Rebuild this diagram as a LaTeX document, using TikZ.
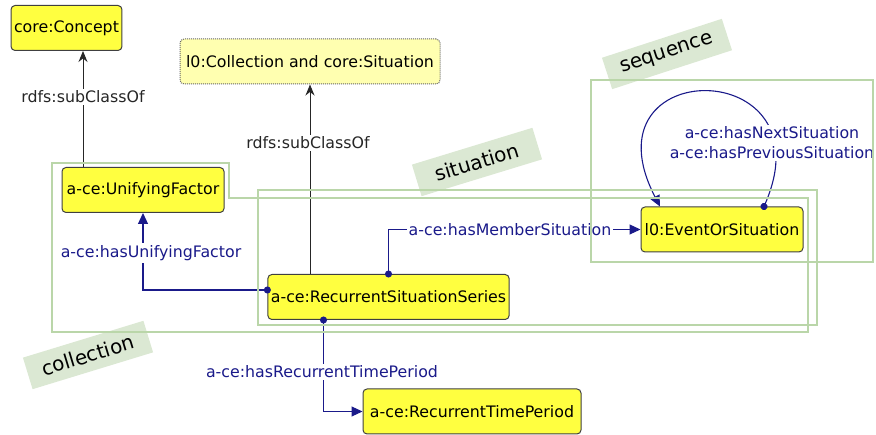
\documentclass[tikz,border=0pt]{standalone}
\usepackage{fontspec}
\setmainfont{DejaVu Sans}
\usetikzlibrary{arrows.meta}
\definecolor{clsyellow}{HTML}{FFFF40}
\definecolor{anonyellow}{HTML}{FFFFB0}
\definecolor{propblue}{HTML}{1A1A8A}
\definecolor{grpgreen}{HTML}{BAD6A9}
\definecolor{tagfill}{HTML}{DBE8D3}

\begin{document}
\begin{tikzpicture}[x=1pt,y=1pt,
    classbox/.style={draw=black!75, fill=clsyellow, rounded corners=4pt, line width=1pt,
        minimum height=45pt, inner sep=3pt, font=\fontsize{15.8}{18}\selectfont},
    anonbox/.style={classbox, draw=black!60, fill=anonyellow, densely dotted},
    grouptag/.style={fill=tagfill, minimum width=126pt, minimum height=33pt,
        font=\fontsize{20}{22}\selectfont},
    groupline/.style={draw=grpgreen, line width=1.3pt},
    subcls/.style={draw=black!85, line width=1pt, -{Stealth[length=11pt,width=9pt]}},
    objprop/.style={draw=propblue, line width=1.1pt, shorten <=-3.5pt,
        {Circle[length=7pt]}-{Triangle[length=11pt,width=10pt]}},
    subclslabel/.style={fill=white, inner sep=2pt, text=black!85, font=\fontsize{15.8}{18}\selectfont},
    proplabel/.style={fill=white, inner sep=2pt, text=propblue, font=\fontsize{15.8}{20}\selectfont}]

    \useasboundingbox (0,0) rectangle (876,435);

    % Group tags
    \node[grouptag, rotate=18] (seqtag) at (667,381) {sequence};
    \node[grouptag, rotate=17] (sittag) at (477,273) {situation};
    \node[grouptag, rotate=17] (coltag) at (88,80) {collection};

    % Classes
    \node[classbox, minimum width=109pt] (concept) at (66.5,407) {core:Concept};
    \node[anonbox, minimum width=260pt] (collsit) at (310,373.5) {l0:Collection and core:Situation};
    \node[classbox, minimum width=162pt] (unifying) at (143,245) {a-ce:UnifyingFactor};
    \node[classbox, minimum width=241pt] (rss) at (388.5,138) {a-ce:RecurrentSituationSeries};
    \node[classbox, minimum width=162pt] (event) at (722,205.5) {l0:EventOrSituation};
    \node[classbox, minimum width=218pt] (rtp) at (472,23.5) {a-ce:RecurrentTimePeriod};

    % Subclass links
    \coordinate (ufup) at ([xshift=-60pt]unifying.north);
    \draw[subcls] (ufup) -- (ufup |- concept.south);
    \draw[subcls] (rss.north -| collsit.south) -- (collsit.south);
    \node[subclslabel] (subone) at (83,338) {rdfs:subClassOf};
    \node[subclslabel] (subtwo) at (308,292) {rdfs:subClassOf};

    % Object properties
    \coordinate (rssleft) at ([yshift=7pt]rss.west);
    \coordinate (rssdown) at ([xshift=-65pt]rss.south);
    \draw[objprop] (rssleft) -| (unifying.south);
    \draw[objprop] (rss.north) |- (event.west);
    \draw[objprop] (rssdown) |- (rtp.west);
    \draw[objprop] ([xshift=42pt]event.north) .. controls (830,381) and (581,381) .. ([xshift=-62pt]event.north);
    \node[proplabel] (lblunify) at (151,182) {a-ce:hasUnifyingFactor};
    \node[proplabel] (lblmember) at (510,205) {a-ce:hasMemberSituation};
    \node[proplabel] (lblperiod) at (322,63) {a-ce:hasRecurrentTimePeriod};
    \node[proplabel, align=center] (lblnext) at (772,292) {a-ce:hasNextSituation\\a-ce:hasPreviousSituation};

    % Groups
    \draw[groupline] (52,272) -- (229,272) -- (229,237) -- (808,237) -- (808,103) -- (52,103) -- cycle;
    \draw[groupline] (258,110) rectangle (817,245);
    \draw[groupline] (591,173) rectangle (873,355);
\end{tikzpicture}
\end{document}
